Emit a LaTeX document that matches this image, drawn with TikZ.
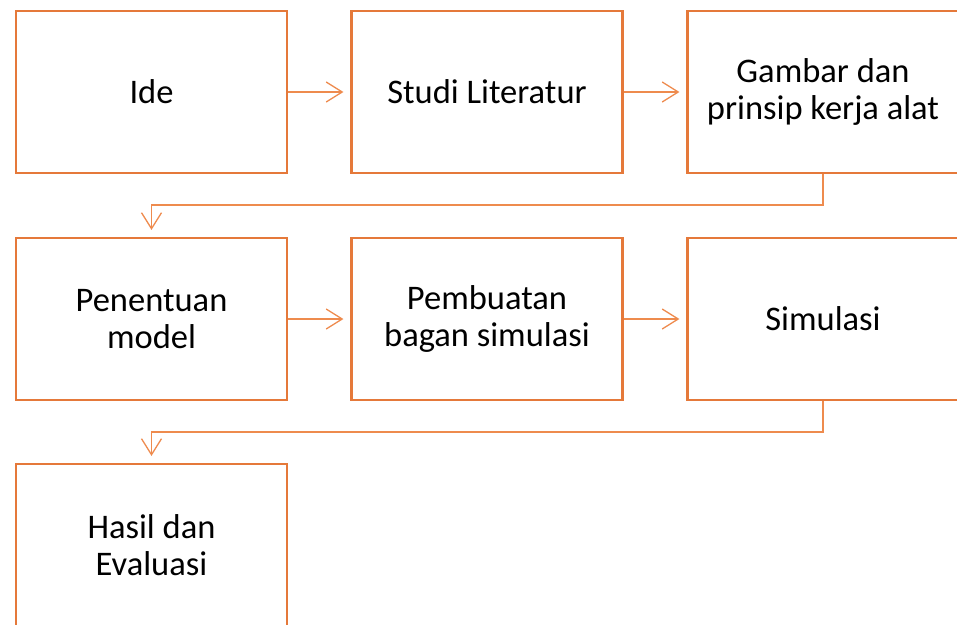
\documentclass[tikz,border=0pt]{standalone}
\usepackage{fontspec}
\setmainfont{Carlito}
\usetikzlibrary{arrows.meta}
\definecolor{boxorange}{HTML}{E5793A}
\definecolor{linkorange}{HTML}{EE8B4E}
\tikzset{
  stepbox/.style={draw=boxorange, line width=2.2pt, fill=white,
    minimum width=271pt, minimum height=162pt, inner sep=0pt,
    align=center, font=\fontsize{34.5}{37}\selectfont, text=black},
  link/.style={draw=linkorange, line width=1.3pt,
    -{Straight Barb[length=16pt,width=20pt,line width=1.3pt]}, shorten >=7pt},
}
\begin{document}
\begin{tikzpicture}[x=1pt,y=-1pt]
\useasboundingbox (0,0) rectangle (957,624);
% first row
\node[stepbox] (ide)   at (151.5,92) {Ide};
\node[stepbox] (studi) at (487,92)   {Studi Literatur};
\node[stepbox] (gbr)   at (823,92)   {Gambar dan\\prinsip kerja alat};
% second row
\node[stepbox] (model) at (151.5,319) {Penentuan\\model};
\node[stepbox] (bagan) at (487,319)   {Pembuatan\\bagan simulasi};
\node[stepbox] (sim)   at (823,319)   {Simulasi};
% third row
\node[stepbox] (hasil) at (151.5,545) {Hasil dan\\Evaluasi};
% connectors
\draw[link] (ide) -- (studi);
\draw[link] (studi) -- (gbr);
\draw[link] (model) -- (bagan);
\draw[link] (bagan) -- (sim);
\draw[link] (gbr.south) -- ++(0,31) -| (model.north);
\draw[link] (sim.south) -- ++(0,31) -| (hasil.north);
\end{tikzpicture}
\end{document}
